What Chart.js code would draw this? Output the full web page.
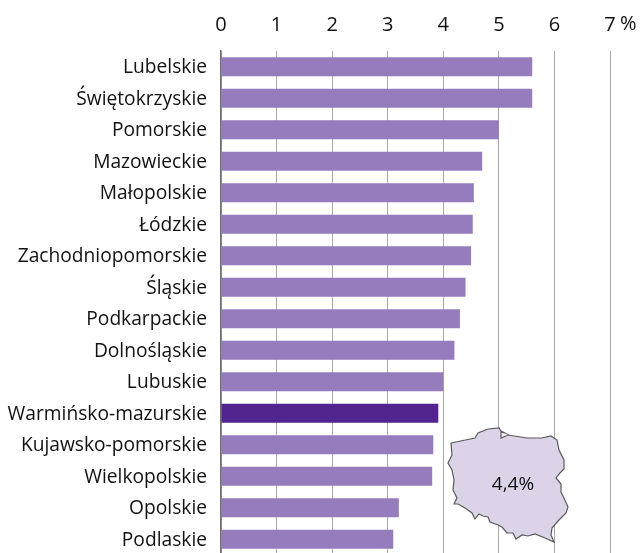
<!DOCTYPE html>
<html><head><meta charset="utf-8">
<style>html,body{margin:0;padding:0;background:#fff;overflow:hidden}#w{width:640px;height:553px;position:relative;overflow:hidden}canvas{display:block}</style>
<script src="https://cdn.jsdelivr.net/npm/chart.js@4"></script>
</head><body><div id="w"><canvas id="c" width="640" height="555"></canvas></div>
<script>
const categories = ["Lubelskie","Świętokrzyskie","Pomorskie","Mazowieckie","Małopolskie","Łódzkie","Zachodniopomorskie","Śląskie","Podkarpackie","Dolnośląskie","Lubuskie","Warmińsko-mazurskie","Kujawsko-pomorskie","Wielkopolskie","Opolskie","Podlaskie"];
const values = [5.6,5.6,5.0,4.7,4.55,4.53,4.5,4.4,4.3,4.2,4.0,3.91,3.82,3.8,3.2,3.1];
const highlighted = "Warmińsko-mazurskie";
const xTicks = [0,1,2,3,4,5,6,7];
const unitLabel = "%";
const mapLabel = "4,4%";
const FONT = '"Open Sans", sans-serif';
// outline of the inset map of Poland (decorative, page pixels)
const mapOutline = [[451,443],[475,438],[478,433],[488,429],[499,428],[501,431],[505,433],[501,432],[501,438],[508,435],[527,438],[542,438],[551,436],[557,440],[559,450],[564,460],[564,469],[560,473],[556,478],[561,484],[561,492],[564,498],[568,507],[566,513],[558,521],[552,528],[551,535],[554,542],[545,538],[535,534],[528,536],[522,535],[516,539],[513,533],[507,533],[502,527],[498,525],[490,522],[488,517],[483,516],[479,514],[475,519],[472,513],[465,508],[458,504],[454,504],[457,498],[453,490],[454,480],[452,470],[448,463],[452,455]];

const overlay = {
  id:'overlay',
  afterDatasetsDraw(chart){
    const g = chart.ctx;
    g.save();
    g.beginPath();
    mapOutline.forEach((p,i)=> i? g.lineTo(p[0],p[1]) : g.moveTo(p[0],p[1]));
    g.closePath();
    g.fillStyle='#dcd3e9'; g.fill();
    g.strokeStyle='#5a5a5a'; g.lineWidth=1.2; g.stroke();
    g.fillStyle='#111'; g.textAlign='center'; g.textBaseline='middle';
    g.font='19px '+FONT;
    g.fillText(mapLabel,513,485);
    g.textAlign='left';
    g.font='20px '+FONT;
    g.fillText(unitLabel,620,24);
    g.restore();
  }
};

new Chart(document.getElementById('c'),{
  type:'bar',
  data:{labels:categories,datasets:[{
    data:values,
    backgroundColor:categories.map(c=>c===highlighted?'#51248f':'#967bbd'),
    barPercentage:0.6,categoryPercentage:1
  }]},
  plugins:[overlay],
  options:{
    indexAxis:'y',responsive:false,animation:false,
    layout:{padding:{left:0,right:30,top:0,bottom:0}},
    plugins:{legend:{display:false},tooltip:{enabled:false}},
    scales:{
      x:{position:'top',min:0,max:7,
        afterFit(s){s.height=51},
        afterBuildTicks(s){s.ticks=xTicks.map(v=>({value:v}))},
        border:{display:false},
        grid:{color:'#a9a9a9',lineWidth:1,drawTicks:false},
        ticks:{color:'#111',font:{family:FONT,size:20},padding:14,maxRotation:0,autoSkip:false}
      },
      y:{
        afterFit(s){s.width=221;s.paddingTop=0;s.paddingBottom=0},
        border:{display:true,color:'#6e6e6e',width:1.5},
        grid:{display:false,drawTicks:false},
        ticks:{color:'#111',font:{family:FONT,size:19.2},padding:14,labelOffset:1,autoSkip:false}
      }
    }
  }
});
</script></body></html>
